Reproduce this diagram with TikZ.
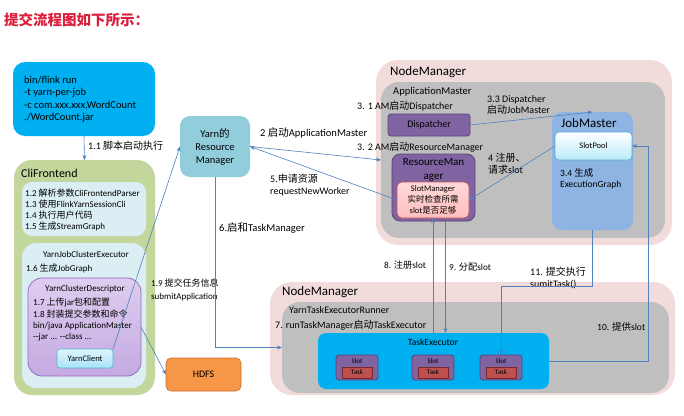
\documentclass[tikz,border=0pt]{standalone}
\usepackage{fontspec}
\setmainfont{Carlito}
\newfontfamily\zh{Noto Sans CJK SC}
\usetikzlibrary{calc,arrows.meta}
\definecolor{titlered}{RGB}{220,30,60}
\definecolor{cmdblue}{RGB}{0,176,240}
\definecolor{cligreen}{RGB}{195,214,155}
\definecolor{lightb}{RGB}{218,238,243}
\definecolor{lav}{RGB}{222,205,240}
\definecolor{lavdark}{RGB}{196,170,225}
\definecolor{lavborder}{RGB}{150,110,190}
\definecolor{ycfill}{RGB}{170,228,248}
\definecolor{ycborder}{RGB}{80,180,220}
\definecolor{hdfsor}{RGB}{247,150,70}
\definecolor{hdfsbd}{RGB}{200,110,40}
\definecolor{yarnblue}{RGB}{146,205,220}
\definecolor{nmpink}{RGB}{242,220,219}
\definecolor{amgray}{RGB}{191,191,191}
\definecolor{purp}{RGB}{128,100,162}
\definecolor{purpbd}{RGB}{90,65,120}
\definecolor{jmblue}{RGB}{141,180,226}
\definecolor{spcyan}{RGB}{185,235,250}
\definecolor{spborder}{RGB}{80,170,210}
\definecolor{smpink}{RGB}{255,190,190}
\definecolor{smborder}{RGB}{200,80,80}
\definecolor{arrowc}{RGB}{79,129,189}
\definecolor{taskred}{RGB}{192,80,77}
\definecolor{taskbd}{RGB}{120,40,40}
\newcommand{\fsz}[1]{\fontsize{#1}{#1}\selectfont}
\begin{document}
\begin{tikzpicture}[x=1pt,y=-1pt,
  box/.style={anchor=north west, inner sep=0pt, outer sep=0pt},
  lbl/.style={anchor=west, inner sep=0pt, font=\fsz{10}},
  arr/.style={draw=arrowc, line width=0.6pt, -{Stealth[length=5pt,width=4pt]}},
  ln/.style={draw=arrowc, line width=0.6pt}]
\useasboundingbox[fill=white] (0,0) rectangle (684,415);

% title
\node[anchor=west, inner sep=0pt, text=titlered, font=\zh\bfseries\fsz{14.5}] (title) at (4,20) {提交流程图如下所示：};

% command box
\node[box, fill=cmdblue, rounded corners=12pt, minimum width=142pt, minimum height=74pt] (cmd) at (13,62) {};
\node[anchor=north west, inner sep=0pt, align=left, font=\fontsize{10.5}{12.5}\selectfont] (cmdtxt) at (24,76)
 {bin/flink run\\-t yarn-per-job\\-c com.xxx.xxx.WordCount\\./WordCount.jar};

% CliFrontend
\node[box, fill=cligreen, rounded corners=18pt, minimum width=141pt, minimum height=235pt] (cli) at (14,160) {};
\node[lbl, font=\fsz{12}] (clit) at (21,173) {CliFrontend};
\node[box, fill=lightb, rounded corners=10pt, minimum width=124pt, minimum height=54pt] (cli1) at (22,182) {};
\node[anchor=north west, inner sep=0pt, align=left, font=\fontsize{9}{11}\selectfont] (cli1t) at (25,189)
 {1.2 {\zh 解析参数}CliFrontendParser\\1.3 {\zh 使用}FlinkYarnSessionCli\\1.4 {\zh 执行用户代码}\\1.5 {\zh 生成}StreamGraph};
\node[box, fill=lightb, rounded corners=14pt, minimum width=124pt, minimum height=145pt] (cli2) at (22,243) {};
\node[inner sep=0pt, font=\fsz{9}] (yjce) at (86,254) {YarnJobClusterExecutor};
\node[lbl, font=\fsz{9}] (l16) at (26,268) {1.6 {\zh 生成}JobGraph};
\node[box, draw=lavborder, line width=0.8pt, top color=lav, bottom color=lavdark, rounded corners=14pt, minimum width=113pt, minimum height=98pt] (ycd) at (28,278) {};
\node[inner sep=0pt, font=\fsz{9}] (ycdt) at (85,289) {YarnClusterDescriptor};
\node[anchor=north west, inner sep=0pt, align=left, font=\fontsize{9}{11.3}\selectfont] (ycdl) at (33,298)
 {1.7 {\zh 上传}jar{\zh 包和配置}\\1.8 {\zh 封装提交参数和命令}\\bin/java ApplicationMaster\\-{}-jar ... -{}-class ...};
\node[box, draw=ycborder, line width=0.6pt, top color=white!60!ycfill, bottom color=ycfill, rounded corners=3pt, minimum width=56pt, minimum height=19pt] (yc) at (57,349) {};
\node[inner sep=0pt, font=\fsz{8.5}] (yct) at (yc.center) {YarnClient};

% HDFS
\node[box, draw=hdfsbd, line width=0.6pt, fill=hdfsor, rounded corners=5pt, minimum width=75pt, minimum height=33pt] (hdfs) at (166,358) {};
\node[inner sep=0pt, font=\fsz{10}] (hdfst) at (hdfs.center) {HDFS};

% Yarn RM
\node[box, fill=yarnblue, rounded corners=10pt, minimum width=70pt, minimum height=61pt] (yrm) at (180,116) {};
\node[inner sep=0pt, align=center, font=\fontsize{10.5}{13}\selectfont] (yrmt) at (yrm.center) {Yarn{\zh 的}\\Resource\\Manager};

% NodeManager top
\node[box, fill=nmpink, rounded corners=22pt, minimum width=296pt, minimum height=185pt] (nm1) at (376,60) {};
\node[lbl, font=\fsz{13}] (nm1t) at (390,72) {NodeManager};
\node[box, fill=amgray, rounded corners=18pt, minimum width=284pt, minimum height=156pt] (am) at (381,82) {};
\node[lbl, font=\fsz{10.5}] (amt) at (393,92) {ApplicationMaster};
\node[lbl] (l31) at (357,106) {3. 1 AM{\zh 启动}Dispatcher};
\node[lbl] (l32) at (357,147) {3. 2 AM{\zh 启动}ResourceManager};
\node[box, draw=purpbd, line width=0.8pt, fill=purp, rounded corners=3pt, minimum width=82pt, minimum height=22pt] (disp) at (388,114) {};
\node[inner sep=0pt, font=\fsz{10}] (dispt) at (disp.center) {Dispatcher};
\node[anchor=north west, inner sep=0pt, align=left, font=\fontsize{10}{11.5}\selectfont] (l33) at (487,95) {3.3 Dispatcher\\{\zh 启动}JobMaster};
\node[box, fill=jmblue, rounded corners=10pt, minimum width=81pt, minimum height=118pt] (jm) at (552,112) {};
\node[lbl, font=\fsz{13}] (jmt) at (561,123) {JobMaster};
\node[box, draw=spborder, line width=0.6pt, top color=white, bottom color=spcyan, rounded corners=4pt, minimum width=77pt, minimum height=28pt] (sp) at (555,132) {};
\node[inner sep=0pt, font=\fsz{8.5}] (spt) at (sp.center) {SlotPool};
\node[anchor=north west, inner sep=0pt, align=left, font=\fontsize{9.5}{11.5}\selectfont] (l34) at (560,168) {3.4 {\zh 生成}\\ExecutionGraph};
\node[anchor=north west, inner sep=0pt, align=left, font=\fontsize{10}{12}\selectfont] (l4) at (488,153) {4 {\zh 注册、}\\{\zh 请求}slot};
\node[box, draw=purpbd, line width=0.8pt, fill=purp, rounded corners=8pt, minimum width=83pt, minimum height=67pt] (rm) at (392,154) {};
\node[inner sep=0pt, align=center, font=\fontsize{11}{13.5}\selectfont] (rmt) at (433.5,170) {ResourceMan\\ager};
\node[box, draw=smborder, line width=0.6pt, top color=white!40!smpink, bottom color=smpink, rounded corners=5pt, minimum width=72pt, minimum height=36pt] (sm) at (397,182) {};
\node[inner sep=0pt, align=center, font=\fontsize{8.5}{11}\selectfont] (smt) at (sm.center) {SlotManager\\{\zh 实时检查所需}\\slot{\zh 是否足够}};

% NodeManager bottom
\node[box, fill=nmpink, rounded corners=22pt, minimum width=405pt, minimum height=113pt] (nm2) at (270,282) {};
\node[lbl, font=\fsz{13}] (nm2t) at (282,292) {NodeManager};
\node[box, fill=amgray, rounded corners=18pt, minimum width=387pt, minimum height=91pt] (yter) at (282,302) {};
\node[lbl, font=\fsz{10}] (ytert) at (289,310) {YarnTaskExecutorRunner};
\node[lbl, font=\fsz{10}] (l7) at (275,325) {7. runTaskManager{\zh 启动}TaskExecutor};
\node[lbl, font=\fsz{9.5}] (l10) at (597,327) {10. {\zh 提供}slot};
\node[box, fill=cmdblue, rounded corners=8pt, minimum width=231pt, minimum height=56pt] (te) at (318,333) {};
\node[inner sep=0pt, font=\fsz{9.5}] (tet) at (433,342) {TaskExecutor};
\foreach \i/\x in {1/336,2/412,3/480}{
  \node[box, draw=purpbd, line width=0.8pt, fill=purp, rounded corners=3pt, minimum width=42pt, minimum height=25pt] (slot\i) at (\x,355) {};
  \node[inner sep=0pt, font=\fsz{7}] (slot\i t) at (\x+21,361.5) {Slot};
  \node[box, draw=taskbd, line width=0.6pt, fill=taskred, minimum width=30pt, minimum height=11pt] (task\i) at (\x+6,367) {};
  \node[inner sep=0pt, font=\fsz{7}] (task\i t) at (task\i.center) {Task};
}

% other labels
\node[lbl, font=\fsz{10}] (l11) at (88,146) {1.1 {\zh 脚本启动执行}};
\node[anchor=north west, inner sep=0pt, align=left, font=\fontsize{9}{12.5}\selectfont] (l19) at (151,279) {1.9 {\zh 提交任务信息}\\submitApplication};
\node[lbl, font=\fsz{10.5}] (l2) at (260,133) {2 {\zh 启动}ApplicationMaster};
\node[anchor=north west, inner sep=0pt, align=left, font=\fontsize{10}{12}\selectfont] (l5) at (270,174) {5.{\zh 申请资源}\\requestNewWorker};
\node[lbl, font=\fsz{10.5}] (l6) at (219,228) {6.{\zh 启和}TaskManager};
\node[lbl, font=\fsz{9.2}] (l8) at (384,265) {8. {\zh 注册}slot};
\node[lbl, font=\fsz{9.2}] (l9) at (449,267) {9. {\zh 分配}slot};
\node[anchor=north west, inner sep=0pt, align=left, font=\fontsize{10}{12}\selectfont] (l11b) at (530,267) {11. {\zh 提交执行}\\sumitTask()};

% connectors
\draw[arr] (cmd.south) -- (cli.north);
\draw[arr] (yc.north east) -- (yrm.west);
\draw[arr] (ycd.east) -- (hdfs.west);
\draw[arr] (yrm.east) -- (am.west);
\draw[arr] (sm.west) -- (yrm.east);
\draw[arr] (disp.east) -- (jm.north);
\draw[arr] (sp.west) -- (sm.east);
\draw[arr] (yrm.south) |- (yter.west);
\draw[arr] (te.north -| sm.south) -- (sm.south);
\coordinate (c9) at ($(rm.south)+(12,0)$);
\draw[arr] (c9) -- (c9 |- te.north);
\draw[arr] (jm.south) -- ++(0,56) -| (slot3.north);
\coordinate (c10) at (648,0);
\draw[arr] (te.east) -| (c10 |- sp.east) -- (sp.east);
\end{tikzpicture}
\end{document}
